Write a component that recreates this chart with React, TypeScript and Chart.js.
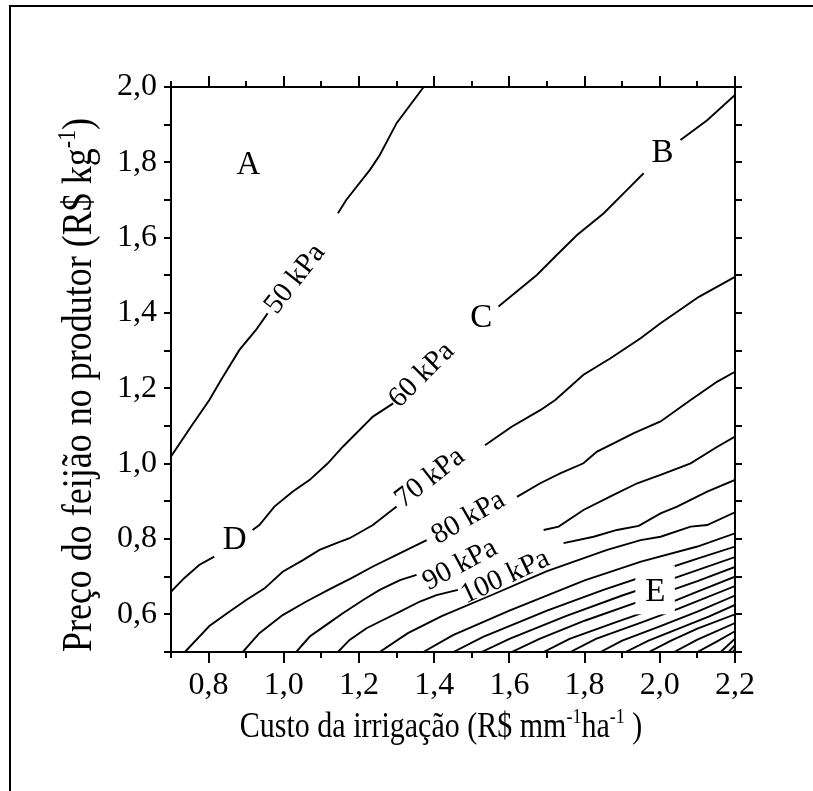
import React, { useEffect, useRef } from 'react';
import { Chart, registerables } from 'chart.js';
Chart.register(...registerables);

const FONT = '"Liberation Serif", "Times New Roman", serif';

const X_MIN = 0.7, X_MAX = 2.2, Y_MIN = 0.5, Y_MAX = 2.0;
const xTickLabels = [0.8, 1.0, 1.2, 1.4, 1.6, 1.8, 2.0, 2.2];
const xMinorTicks = [0.7, 0.9, 1.1, 1.3, 1.5, 1.7, 1.9, 2.1];
const yTickLabels = [0.6, 0.8, 1.0, 1.2, 1.4, 1.6, 1.8, 2.0];
const yMinorTicks = [0.5, 0.7, 0.9, 1.1, 1.3, 1.5, 1.7, 1.9];

// contour lines, [x, y]; y = null marks a break for a label
const kPa50 = [[0.70,1.019],[0.753,1.098],[0.802,1.169],[0.833,1.222],[0.882,1.302],[0.926,1.355],[0.957,1.399],[1.05,null],[1.144,1.665],[1.166,1.700],[1.229,1.780],[1.255,1.819],[1.300,1.904],[1.372,2.0]];
const kPa60 = [[0.70,0.660],[0.735,0.696],[0.775,0.731],[0.815,0.753],[0.87,null],[0.917,0.824],[0.935,0.837],[0.975,0.886],[1.024,0.926],[1.069,0.957],[1.117,1.001],[1.157,1.045],[1.237,1.125],[1.291,1.160],[1.45,null],[1.571,1.417],[1.673,1.501],[1.726,1.554],[1.780,1.607],[1.851,1.665],[1.913,1.727],[1.957,1.771],[2.0,null],[2.055,1.859],[2.126,1.912],[2.2,1.979]];
const kPa70 = [[0.737,0.5],[0.802,0.569],[0.855,0.607],[0.900,0.638],[0.949,0.669],[0.997,0.713],[1.051,0.744],[1.095,0.771],[1.140,0.789],[1.175,0.802],[1.237,0.837],[1.300,0.886],[1.42,null],[1.535,1.049],[1.606,1.098],[1.682,1.142],[1.722,1.169],[1.797,1.236],[1.869,1.280],[1.949,1.333],[2.002,1.373],[2.104,1.443],[2.2,1.496]];
const kPa80 = [[0.891,0.5],[0.935,0.550],[0.997,0.598],[1.060,0.634],[1.126,0.669],[1.180,0.696],[1.237,0.727],[1.300,0.758],[1.380,0.797],[1.5,null],[1.620,0.912],[1.682,0.948],[1.735,0.974],[1.797,1.001],[1.833,1.032],[1.877,1.054],[1.931,1.081],[2.002,1.112],[2.082,1.169],[2.153,1.218],[2.2,1.244]];
const kPa90 = [[1.033,0.5],[1.069,0.541],[1.113,0.572],[1.157,0.603],[1.211,0.638],[1.255,0.665],[1.309,0.691],[1.353,0.705],[1.5,null],[1.691,0.824],[1.731,0.833],[1.797,0.877],[1.877,0.917],[1.940,0.948],[2.002,0.970],[2.082,1.001],[2.153,1.045],[2.2,1.072]];
const kPa100 = [[1.144,0.5],[1.175,0.532],[1.220,0.563],[1.264,0.585],[1.309,0.607],[1.362,0.634],[1.406,0.651],[1.463,0.665],[1.6,null],[1.744,0.789],[1.824,0.806],[1.886,0.824],[1.944,0.835],[2.002,0.868],[2.046,0.886],[2.082,0.904],[2.126,0.926],[2.2,0.957]];
const kPa110 = [[1.255,0.5],[1.33,0.55],[1.42,0.595],[1.55,0.65],[1.70,0.715],[1.86,0.771],[1.949,0.797],[2.002,0.806],[2.082,0.833],[2.126,0.837],[2.2,0.871]];
const kPa120 = [[1.371,0.5],[1.45,0.545],[1.60,0.61],[1.80,0.69],[1.95,0.74],[2.1,0.78],[2.2,0.815]];
const kPa130 = [[1.451,0.5],[1.53,0.54],[1.70,0.61],[1.85,0.665],[2.0,0.715],[2.1,0.748],[2.2,0.78]];
const kPa140 = [[1.526,0.5],[1.60,0.535],[1.75,0.595],[1.90,0.65],[2.05,0.70],[2.2,0.752]];
const kPa150 = [[1.606,0.5],[1.68,0.535],[1.80,0.583],[1.95,0.636],[2.1,0.688],[2.2,0.726]];
const kPa160 = [[1.691,0.5],[1.76,0.535],[1.88,0.578],[2.0,0.62],[2.1,0.66],[2.2,0.70]];
const kPa170 = [[1.762,0.5],[1.83,0.535],[1.95,0.578],[2.05,0.615],[2.2,0.675]];
const kPa180 = [[1.842,0.5],[1.90,0.53],[2.0,0.568],[2.1,0.607],[2.2,0.65]];
const kPa190 = [[1.909,0.5],[1.97,0.53],[2.05,0.562],[2.13,0.594],[2.2,0.625]];
const kPa200 = [[1.971,0.5],[2.03,0.53],[2.1,0.562],[2.2,0.60]];
const kPa210 = [[2.038,0.5],[2.1,0.533],[2.2,0.577]];
const kPa220 = [[2.100,0.5],[2.15,0.527],[2.2,0.555]];
const kPa230 = [[2.162,0.5],[2.2,0.535]];
const kPa240 = [[2.183,0.5],[2.2,0.518]];
const kPa250 = [[2.194,0.5],[2.2,0.507]];

const contourLines = [kPa50, kPa60, kPa70, kPa80, kPa90, kPa100, kPa110, kPa120, kPa130, kPa140, kPa150, kPa160, kPa170, kPa180, kPa190, kPa200, kPa210, kPa220, kPa230, kPa240, kPa250];

// contour labels: text, x, y, angle (deg)
const lineLabels: [string, number, number, number][] = [
  ['50 kPa', 1.03, 1.49, -52],
  ['60 kPa', 1.367, 1.235, -45],
  ['70 kPa', 1.389, 0.962, -38],
  ['80 kPa', 1.491, 0.856, -30],
  ['90 kPa', 1.469, 0.731, -28],
  ['100 kPa', 1.589, 0.699, -25],
];
const regionLabels: [string, number, number][] = [
  ['A', 0.906, 1.793],
  ['B', 2.007, 1.825],
  ['C', 1.525, 1.387],
  ['D', 0.869, 0.797],
  ['E', 1.988, 0.659],
];
const eBox = [1.935, 2.04, 0.60, 0.73];

const fmt = (v: number) => v.toFixed(1).replace('.', ',');

function drawRich(ctx: CanvasRenderingContext2D, parts: [string, boolean][], size: number, x: number, y: number) {
  const widths = parts.map(([t, sup]) => {
    ctx.font = `${sup ? Math.round(size * 0.6) : size}px ${FONT}`;
    return ctx.measureText(t).width;
  });
  const total = widths.reduce((a, b) => a + b, 0);
  let cx = x - total / 2;
  parts.forEach(([t, sup], i) => {
    ctx.font = `${sup ? Math.round(size * 0.6) : size}px ${FONT}`;
    ctx.fillText(t, cx, sup ? y - size * 0.38 : y);
    cx += widths[i];
  });
}

const overlay = {
  id: 'overlay',
  beforeDraw(chart: any) {
    const { ctx, width, height } = chart;
    ctx.save();
    ctx.fillStyle = '#fff';
    ctx.fillRect(0, 0, width, height);
    ctx.strokeStyle = '#000';
    ctx.lineWidth = 2;
    ctx.strokeRect(10, 6, width + 50, height + 50);
    ctx.restore();
  },
  afterDraw(chart: any) {
    const { ctx, chartArea: { left, right, top, bottom }, scales: { x, y } } = chart;
    ctx.save();
    // white box around E
    ctx.fillStyle = '#fff';
    const bx0 = x.getPixelForValue(eBox[0]), bx1 = x.getPixelForValue(eBox[1]);
    const by0 = y.getPixelForValue(eBox[3]), by1 = y.getPixelForValue(eBox[2]);
    ctx.fillRect(bx0, by0, bx1 - bx0, by1 - by0);

    ctx.fillStyle = '#000';
    ctx.textAlign = 'center';
    ctx.textBaseline = 'middle';
    ctx.font = `33px ${FONT}`;
    regionLabels.forEach(([t, vx, vy]) => {
      ctx.fillText(t, x.getPixelForValue(vx), y.getPixelForValue(vy));
    });
    ctx.font = `29px ${FONT}`;
    lineLabels.forEach(([t, vx, vy, a]) => {
      ctx.save();
      ctx.translate(x.getPixelForValue(vx), y.getPixelForValue(vy));
      ctx.rotate((a * Math.PI) / 180);
      ctx.fillText(t, 0, 0);
      ctx.restore();
    });

    // axes box
    ctx.strokeStyle = '#000';
    ctx.lineWidth = 2;
    ctx.strokeRect(left, top, right - left, bottom - top);
    ctx.beginPath();
    const xt = (v: number, len: number) => {
      const p = Math.round(x.getPixelForValue(v));
      ctx.moveTo(p, bottom); ctx.lineTo(p, bottom + len);
      ctx.moveTo(p, top); ctx.lineTo(p, top - len);
    };
    xTickLabels.forEach(v => xt(v, 11));
    xMinorTicks.forEach(v => xt(v, 6));
    const yt = (v: number, len: number) => {
      const p = Math.round(y.getPixelForValue(v));
      ctx.moveTo(left, p); ctx.lineTo(left - len, p);
      ctx.moveTo(right, p); ctx.lineTo(right + len, p);
    };
    yTickLabels.forEach(v => yt(v, 7));
    yMinorTicks.forEach(v => yt(v, 7));
    ctx.stroke();

    // axis titles
    ctx.fillStyle = '#000';
    ctx.textAlign = 'left';
    ctx.textBaseline = 'alphabetic';
    ctx.save();
    ctx.translate(441, 737);
    ctx.scale(1, 1.2);
    drawRich(ctx, [['Custo da irrigação (R$ mm', false], ['-1', true], ['ha', false], ['-1', true], [' )', false]], 30, 0, 0);
    ctx.restore();
    ctx.save();
    ctx.translate(91, 385);
    ctx.rotate(-Math.PI / 2);
    ctx.scale(1, 1.15);
    drawRich(ctx, [['Preço do feijão no produtor (R$ kg', false], ['-1', true], [')', false]], 36, 0, 0);
    ctx.restore();
    ctx.restore();
  },
};

export default function App() {
  const ref = useRef<HTMLCanvasElement>(null);
  useEffect(() => {
    if (!ref.current) return;
    const chart = new Chart(ref.current, {
      type: 'line',
      data: {
        datasets: contourLines.map(l => ({
          data: l.map(([px, py]) => ({ x: px, y: py })),
          borderColor: '#000',
          borderWidth: 1.9,
          pointRadius: 0,
          fill: false,
          tension: 0,
          spanGaps: false,
        })),
      },
      options: {
        responsive: false,
        animation: false,
        devicePixelRatio: 1,
        layout: { padding: { top: 87, right: 78, left: 0, bottom: 0 } },
        plugins: { legend: { display: false }, tooltip: { enabled: false } },
        scales: {
          x: {
            type: 'linear', min: X_MIN, max: X_MAX,
            afterFit: (s: any) => { s.height = 139; },
            afterBuildTicks: (s: any) => { s.ticks = xTickLabels.map(v => ({ value: v })); },
            ticks: { callback: (v: any) => fmt(Number(v)), font: { family: FONT, size: 32 }, color: '#000', padding: 14, maxRotation: 0, autoSkip: false },
            grid: { display: false, drawTicks: false },
            border: { display: false },
          },
          y: {
            type: 'linear', min: Y_MIN, max: Y_MAX,
            afterFit: (s: any) => { s.width = 171; },
            afterBuildTicks: (s: any) => { s.ticks = yTickLabels.map(v => ({ value: v })); },
            ticks: { callback: (v: any) => fmt(Number(v)), font: { family: FONT, size: 32 }, color: '#000', padding: 14, autoSkip: false },
            grid: { display: false, drawTicks: false },
            border: { display: false },
          },
        },
      },
      plugins: [overlay],
    } as any);
    return () => chart.destroy();
  }, []);
  return (
    <div style={{ position: 'absolute', left: 0, top: 0, width: 813, height: 791 }}>
      <canvas ref={ref} width={813} height={791} style={{ display: 'block' }} />
    </div>
  );
}
